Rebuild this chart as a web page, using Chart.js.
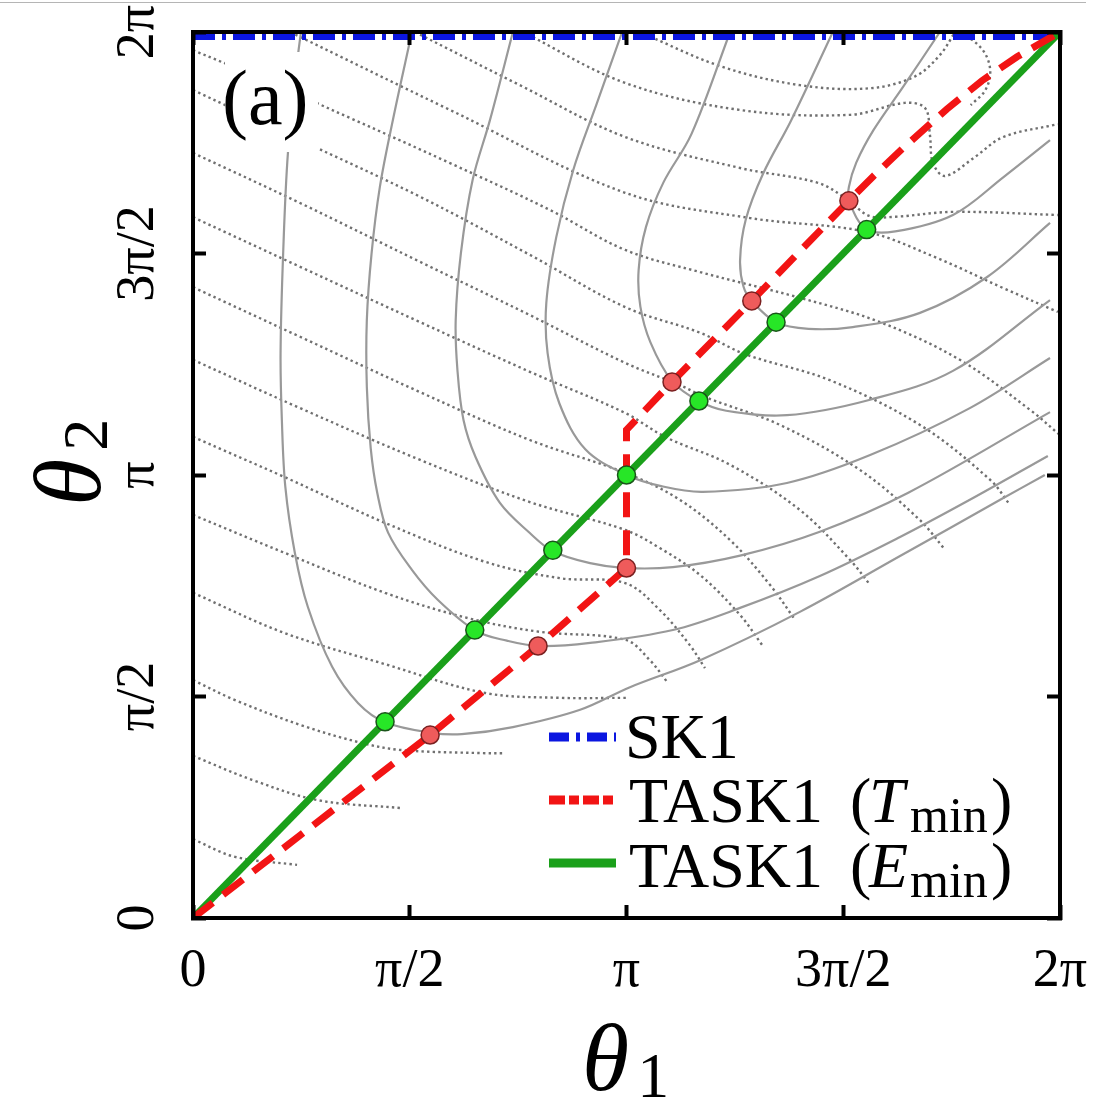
<!DOCTYPE html>
<html>
<head>
<meta charset="utf-8">
<script src="https://cdn.jsdelivr.net/npm/chart.js@4.4.1/dist/chart.umd.min.js"></script>
<style>
  html, body { margin: 0; padding: 0; background: #fff; }
  #wrap { position: relative; width: 1095px; height: 1099px; }
  #rule { position: absolute; left: 0; top: 2px; width: 1086px; height: 1px; background: #b5b5b5; }
</style>
</head>
<body>
<div id="wrap">
  <canvas id="chart" width="1095" height="1099"></canvas>
  <div id="rule"></div>
</div>
<script>
// angles are stored in units of pi (1 -> π, 2 -> 2π)
const tickValues = [0, 0.5, 1, 1.5, 2];
const tickLabels = ['0', 'π/2', 'π', '3π/2', '2π'];

const sk1 = [[0, 2], [2, 2]];
const taskTmin = [[0, 0], [0.547, 0.413], [0.796, 0.614], [1.0, 0.79], [1.0, 1.102], [1.105, 1.21],
  [1.289, 1.393], [1.513, 1.619], [1.570, 1.675], [1.638, 1.738], [1.739, 1.826], [1.820, 1.890],
  [1.901, 1.944], [2, 2]];
const taskEmin = [[0, 0], [2, 2]];
const taskTminMarks = [[0.547, 0.413], [0.796, 0.614], [1.0, 0.79], [1.105, 1.21], [1.289, 1.393], [1.513, 1.619]];
const taskEminMarks = [[0.443, 0.443], [0.65, 0.65], [0.83, 0.83], [1.0, 1.0], [1.167, 1.167], [1.345, 1.345], [1.554, 1.554]];

// energy contours (solid grey)
const energy1 = [[0.249, 2.0], [0.240, 1.930], [0.219, 1.727], [0.208, 1.501], [0.202, 1.275], [0.205, 1.124],
  [0.213, 0.973], [0.235, 0.824], [0.265, 0.702], [0.321, 0.567], [0.381, 0.485], [0.443, 0.442],
  [0.551, 0.418], [0.62, 0.415], [0.738, 0.431], [0.893, 0.470], [1.008, 0.521], [1.170, 0.582], [1.400, 0.691],
  [1.631, 0.817], [1.862, 0.944], [1.965, 1.0]];
const energy2 = [[0.505, 2.0], [0.461, 1.801], [0.431, 1.650], [0.412, 1.501], [0.401, 1.350], [0.401, 1.199],
  [0.410, 1.060], [0.425, 0.960], [0.450, 0.870], [0.505, 0.786], [0.565, 0.718], [0.653, 0.648],
  [0.724, 0.626], [0.796, 0.614], [0.916, 0.621], [1.107, 0.650], [1.262, 0.700], [1.446, 0.772], [1.631, 0.860],
  [1.792, 0.944], [1.972, 1.043]];
const energy3 = [[0.738, 2.0], [0.685, 1.801], [0.645, 1.666], [0.618, 1.501], [0.606, 1.350], [0.610, 1.237],
  [0.624, 1.124], [0.652, 1.040], [0.708, 0.937], [0.777, 0.869], [0.830, 0.828], [0.916, 0.801], [0.997, 0.790],
  [1.107, 0.792], [1.262, 0.818], [1.446, 0.872], [1.650, 0.960], [1.977, 1.142]];
const energy4 = [[0.990, 2.0], [0.932, 1.840], [0.877, 1.688], [0.838, 1.537], [0.815, 1.388], [0.818, 1.275],
  [0.845, 1.162], [0.905, 1.058], [1.0, 1.0], [1.080, 0.975], [1.176, 0.962], [1.370, 0.982],
  [1.562, 1.045], [1.792, 1.151], [1.977, 1.264]];
const energy5 = [[1.239, 2.0], [1.150, 1.770], [1.085, 1.660], [1.045, 1.560], [1.028, 1.463], [1.032, 1.380],
  [1.055, 1.300], [1.105, 1.212], [1.167, 1.167], [1.230, 1.145], [1.370, 1.135], [1.562, 1.170],
  [1.753, 1.235], [1.977, 1.395]];
const energy6 = [[1.476, 2.0], [1.380, 1.801], [1.315, 1.680], [1.275, 1.576], [1.262, 1.485], [1.270, 1.425],
  [1.289, 1.393], [1.345, 1.345], [1.420, 1.330], [1.522, 1.334], [1.677, 1.366], [1.832, 1.447], [1.977, 1.569]];
const energy7 = [[1.723, 2.0], [1.638, 1.876], [1.570, 1.779], [1.530, 1.705], [1.513, 1.650], [1.513, 1.619],
  [1.553, 1.555], [1.620, 1.550], [1.753, 1.587], [1.869, 1.672], [1.977, 1.756]];

// time contours (dotted grey)
const time1 = [[0, 1.959], [0.155, 1.896], [0.362, 1.806], [0.593, 1.704], [0.824, 1.598], [0.997, 1.508],
  [1.170, 1.458], [1.400, 1.400], [1.585, 1.345], [1.769, 1.260], [1.931, 1.147], [2.0, 1.090]];
const time2 = [[0, 1.869], [0.247, 1.756], [0.524, 1.628], [0.777, 1.497], [0.997, 1.379], [1.170, 1.321],
  [1.273, 1.273], [1.469, 1.214], [1.677, 1.113], [1.839, 0.989], [1.885, 0.932]];
const time3 = [[0, 1.727], [0.247, 1.614], [0.524, 1.481], [0.777, 1.361], [0.997, 1.253], [1.123, 1.203],
  [1.181, 1.176], [1.354, 1.113], [1.539, 1.011], [1.677, 0.898], [1.735, 0.831]];
const time4 = [[0, 1.582], [0.247, 1.470], [0.524, 1.345], [0.777, 1.233], [0.997, 1.140], [1.089, 1.086],
  [1.239, 1.023], [1.400, 0.921], [1.516, 0.808], [1.562, 0.752]];
const time5 = [[0, 1.424], [0.247, 1.312], [0.524, 1.187], [0.777, 1.079], [0.997, 1.005], [1.123, 0.944],
  [1.239, 0.853], [1.331, 0.752], [1.389, 0.673]];
const time6 = [[0, 1.260], [0.247, 1.151], [0.524, 1.034], [0.777, 0.939], [0.997, 0.876], [1.077, 0.835],
  [1.170, 0.774], [1.262, 0.684], [1.313, 0.616]];
const time7 = [[0, 1.086], [0.212, 0.995], [0.443, 0.892], [0.674, 0.804], [0.847, 0.767], [0.997, 0.756],
  [1.077, 0.695], [1.146, 0.616], [1.181, 0.564]];
const time8 = [[0, 0.910], [0.212, 0.824], [0.443, 0.734], [0.634, 0.677], [0.800, 0.646], [0.997, 0.628],
  [1.054, 0.582], [1.096, 0.530]];
const time9 = [[0, 0.734], [0.212, 0.643], [0.443, 0.573], [0.674, 0.508], [0.847, 0.497], [1.001, 0.497]];
const time10 = [[0, 0.537], [0.097, 0.492], [0.247, 0.436], [0.390, 0.395], [0.482, 0.379], [0.674, 0.372], [0.715, 0.372]];
const time11 = [[0, 0.366], [0.136, 0.312], [0.288, 0.266], [0.482, 0.248]];
const time12 = [[0, 0.178], [0.097, 0.138], [0.240, 0.120]];
const time13 = [[0.224, 2.0], [0.593, 1.824], [0.997, 1.637], [1.285, 1.580], [1.553, 1.549], [1.716, 1.490],
  [1.869, 1.422], [1.995, 1.368]];
const time14 = [[0.512, 2.0], [0.754, 1.880], [0.997, 1.763], [1.262, 1.693], [1.440, 1.660], [1.505, 1.625],
  [1.560, 1.585], [1.620, 1.583], [1.753, 1.594], [1.995, 1.587]];
const time15 = [[0.761, 2.0], [0.997, 1.885], [1.262, 1.824], [1.516, 1.813], [1.642, 1.840], [1.689, 1.828],
  [1.700, 1.767], [1.707, 1.704], [1.735, 1.675], [1.804, 1.718], [1.869, 1.763], [1.995, 1.792]];
const time16 = [[1.031, 2.0], [1.216, 1.923], [1.400, 1.880], [1.562, 1.873], [1.666, 1.900], [1.723, 1.948],
  [1.758, 2.0]];
const time17 = [[1.774, 2.0], [1.822, 1.959], [1.839, 1.914], [1.828, 1.869], [1.794, 1.835]];

const energyContours = [energy1, energy2, energy3, energy4, energy5, energy6, energy7];
const timeContours = [time1, time2, time3, time4, time5, time6, time7, time8, time9, time10, time11, time12,
  time13, time14, time15, time16, time17];

const serif = '"Liberation Serif", "DejaVu Serif", serif';
const toXY = pts => pts.map(p => ({ x: p[0], y: p[1] }));

function curve(pts, color, width, dash, order, tension) {
  return {
    data: toXY(pts), showLine: true, borderColor: color, borderWidth: width, borderDash: dash,
    pointRadius: 0, pointHoverRadius: 0, tension: tension, order: order, clip: 0
  };
}

const datasets = [];
energyContours.forEach(c => datasets.push(curve(c, '#999999', 2.2, [], 6, 0.35)));
timeContours.forEach(c => datasets.push(curve(c, '#707070', 2.4, [2.4, 3.2], 7, 0.35)));
datasets.push(curve(sk1, '#0b16e0', 16, [22, 7, 4, 7], 3, 0));
datasets.push(curve(taskEmin, '#1aa01a', 7, [], 2, 0));
datasets.push(curve(taskTmin, '#f21414', 7, [25, 13], 1, 0));
datasets.push({
  data: toXY(taskEminMarks), showLine: false, pointRadius: 9, pointBorderWidth: 1.5,
  pointBackgroundColor: '#27e627', pointBorderColor: '#1a541a', order: 0, clip: false
});
datasets.push({
  data: toXY(taskTminMarks), showLine: false, pointRadius: 9, pointBorderWidth: 1.5,
  pointBackgroundColor: '#ef5b5b', pointBorderColor: '#7a2020', order: 0, clip: false
});

// horizontal space taken by the widest tick label, used to centre the rotated y labels
const probe = document.createElement('canvas').getContext('2d');
probe.font = '54px ' + serif;
const widest = Math.max(...tickLabels.map(t => probe.measureText(t).width));

function axis(position, showLabels, size) {
  const horizontal = position === 'top' || position === 'bottom';
  const ticks = {
    display: showLabels, stepSize: 0.5, autoSkip: false, color: '#000',
    font: { family: serif, size: 54 },
    callback: v => tickLabels[tickValues.indexOf(v)]
  };
  if (horizontal) {
    Object.assign(ticks, { maxRotation: 0, minRotation: 0, padding: 34 });
  } else {
    Object.assign(ticks, { minRotation: 90, maxRotation: 90, crossAlign: 'center', padding: 206 - 139 - widest / 2 });
  }
  return {
    type: 'linear', position: position, min: 0, max: 2,
    afterFit: s => {
      if (horizontal) s.height = size; else s.width = size;
      s.paddingLeft = s.paddingRight = s.paddingTop = s.paddingBottom = 0;
    },
    ticks: ticks,
    // inward tick marks, drawn above the curves like the frame
    grid: { drawOnChartArea: false, drawTicks: true, tickLength: -13, tickWidth: 4, tickColor: '#000', z: 1 },
    border: { display: true, color: '#000', width: 4, z: 1 }
  };
}

function drawRuns(ctx, runs, x, y) {
  for (const r of runs) {
    ctx.font = r.font;
    const at = r.x !== undefined ? r.x : x;
    ctx.fillText(r.text, at, y + (r.dy || 0));
    x = at + ctx.measureText(r.text).width + (r.gap || 0);
  }
}

const decorations = {
  id: 'decorations',
  afterDatasetsDraw(chart) {
    const ctx = chart.ctx;
    const a = chart.chartArea;
    ctx.save();
    ctx.fillStyle = '#fff';
    ctx.fillRect(a.left + 32, a.top + 20, 93, 100);
    ctx.fillStyle = '#000';
    ctx.textBaseline = 'alphabetic';
    ctx.font = '78px ' + serif;
    ctx.fillText('(a)', a.left + 29, a.top + 92);
    ctx.restore();
  },
  afterDraw(chart) {
    const ctx = chart.ctx;
    ctx.save();
    ctx.fillStyle = '#000';
    ctx.textBaseline = 'alphabetic';
    const main = '64px ' + serif;
    const ital = 'italic 64px ' + serif;
    const sub = '50px ' + serif;

    // legend samples
    const sample = (y, color, dash) => {
      ctx.beginPath();
      ctx.setLineDash(dash);
      ctx.lineWidth = 9;
      ctx.strokeStyle = color;
      ctx.moveTo(549, y);
      ctx.lineTo(616, y);
      ctx.stroke();
    };
    sample(737, '#0b16e0', [20, 7, 4, 7]);
    sample(800, '#f21414', [16, 4, 10, 4]);
    sample(863, '#1aa01a', []);
    ctx.setLineDash([]);

    drawRuns(ctx, [{ text: 'SK1', font: main }], 625, 758);
    const task = (letter, y) => drawRuns(ctx, [
      { text: 'TASK1', font: main },
      { text: '(', font: main, x: 850 },
      { text: letter, font: ital, x: 869 },
      { text: 'min', font: sub, dy: 10, x: 910 },
      { text: ')', font: main, x: 991 }
    ], 629, y);
    task('T', 822);
    task('E', 887);

    // axis titles
    drawRuns(ctx, [{ text: 'θ', font: 'italic 96px ' + serif, gap: 8 }, { text: '1', font: '64px ' + serif, dy: 7 }], 582, 1090);
    ctx.translate(100, 506);
    ctx.rotate(-Math.PI / 2);
    drawRuns(ctx, [{ text: 'θ', font: 'italic 96px ' + serif, gap: 8 }, { text: '2', font: '64px ' + serif, dy: 7 }], 0, 0);
    ctx.restore();
  }
};

new Chart(document.getElementById('chart'), {
  type: 'scatter',
  data: { datasets: datasets },
  options: {
    responsive: false,
    animation: false,
    events: [],
    layout: { padding: 0, autoPadding: false },
    plugins: { legend: { display: false }, tooltip: { enabled: false } },
    scales: {
      x: axis('bottom', true, 181),
      x2: axis('top', false, 32),
      y: axis('left', true, 193),
      y2: axis('right', false, 35)
    }
  },
  plugins: [decorations]
});
</script>
</body>
</html>
